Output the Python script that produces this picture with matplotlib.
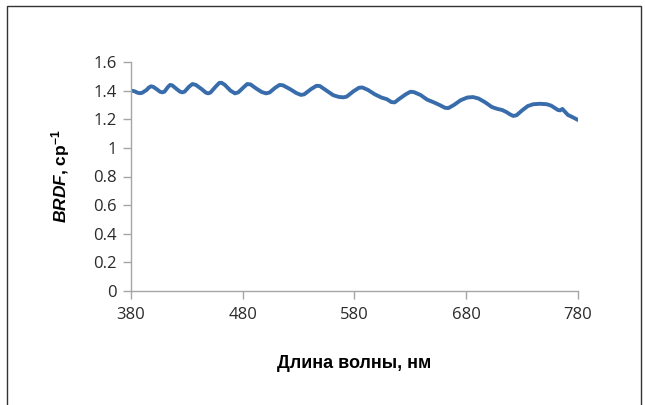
import matplotlib
matplotlib.use("Agg")
import matplotlib.pyplot as plt
from matplotlib.patches import Rectangle

wavelength = [380, 383, 386, 388, 390, 394, 396, 398, 400, 403, 406, 408, 410, 413, 415,
              417, 421, 424, 426, 428, 432, 435, 438, 443, 447, 449, 451, 456, 459, 461,
              464, 469, 473, 476, 481, 484, 487, 492, 497, 501, 504, 509, 513, 516, 522,
              528, 532, 535, 541, 546, 549, 555, 561, 566, 570, 573, 579, 584, 587, 592,
              598, 604, 609, 613, 616, 620, 626, 630, 633, 639, 645, 651, 656, 661, 664,
              669, 675, 681, 686, 691, 697, 703, 708, 712, 716, 719, 722, 725, 730, 735,
              740, 746, 752, 756, 760, 762, 764, 766, 768, 771, 775, 780]
brdf = [1.400, 1.396, 1.385, 1.382, 1.385, 1.405, 1.422, 1.430, 1.426, 1.410, 1.392, 1.388,
        1.393, 1.425, 1.440, 1.436, 1.410, 1.392, 1.388, 1.393, 1.428, 1.446, 1.440, 1.412,
        1.386, 1.381, 1.386, 1.430, 1.454, 1.455, 1.440, 1.400, 1.381, 1.388, 1.425, 1.446,
        1.443, 1.415, 1.390, 1.381, 1.387, 1.420, 1.440, 1.437, 1.412, 1.383, 1.370, 1.374,
        1.410, 1.434, 1.432, 1.400, 1.368, 1.356, 1.353, 1.358, 1.395, 1.420, 1.422, 1.405,
        1.375, 1.352, 1.340, 1.320, 1.318, 1.342, 1.375, 1.392, 1.390, 1.370, 1.337, 1.318,
        1.300, 1.280, 1.278, 1.300, 1.333, 1.352, 1.355, 1.345, 1.318, 1.285, 1.272, 1.265,
        1.250, 1.235, 1.223, 1.228, 1.262, 1.292, 1.305, 1.308, 1.305, 1.295, 1.275, 1.265,
        1.262, 1.272, 1.255, 1.230, 1.215, 1.195]

xticks = [380, 480, 580, 680, 780]
yticks = [0, 0.2, 0.4, 0.6, 0.8, 1.0, 1.2, 1.4, 1.6]
ytick_labels = ["0", "0.2", "0.4", "0.6", "0.8", "1", "1.2", "1.4", "1.6"]

plt.rcParams['mathtext.fontset'] = 'custom'
plt.rcParams['mathtext.rm'] = 'Liberation Sans:bold'
plt.rcParams['mathtext.it'] = 'Liberation Sans:italic:bold'

W, H = 645, 405
fig = plt.figure(figsize=(W / 100, H / 100), dpi=100)
ax = fig.add_axes([131 / W, 1 - 291 / H, (578 - 131) / W, (291 - 62) / H])

ax.plot(wavelength, brdf, color='#386cab', lw=2.8, solid_joinstyle='round',
        solid_capstyle='round')

ax.set_xlim(380, 780)
ax.set_ylim(0, 1.6)
ax.set_xticks(xticks)
ax.set_yticks(yticks)
ax.set_yticklabels(ytick_labels)

for s in ['top', 'right']:
    ax.spines[s].set_visible(False)
for s in ['left', 'bottom']:
    ax.spines[s].set_color('#a6a6a6')
    ax.spines[s].set_linewidth(1.0)
ax.tick_params(axis='both', colors='#a6a6a6', labelcolor='#2a2a2a', length=5.5,
               width=1.0, labelsize=12)
ax.tick_params(axis='x', pad=6)
ax.tick_params(axis='y', pad=5)
for lab in ax.get_xticklabels() + ax.get_yticklabels():
    lab.set_family('Open Sans')

ax.set_xlabel('Длина волны, нм', fontsize=13, fontweight='bold',
              family='Liberation Sans', labelpad=23)
ax.set_ylabel(r'$\mathit{BRDF}$, ср$^{-1}$', fontsize=12.5, fontweight='bold',
              family='Liberation Sans', labelpad=15)

fig.add_artist(Rectangle((7 / W, -0.05), (641 - 7) / W, 1.05 - 6 / H,
                         transform=fig.transFigure, fill=False,
                         edgecolor='#333333', lw=1.0))

fig.savefig('out.png', dpi=100)
